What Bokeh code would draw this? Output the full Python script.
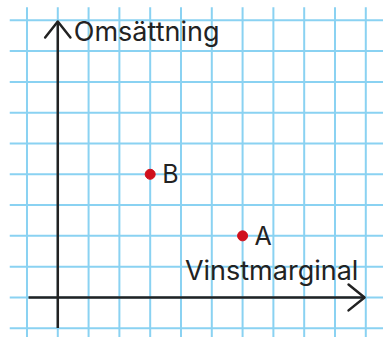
from bokeh.plotting import figure
from bokeh.models import ColumnDataSource
from bokeh.core.properties import value
from bokeh.embed import file_html
from bokeh.resources import INLINE

# Points on the diagram (grid units from the origin)
names = ["A", "B"]
margin = [6, 3]
turnover = [2, 4]

# Axis captions
x_title = "Vinstmarginal"
y_title = "Omsättning"

FONT = value("Inter")
INK = "#222222"
GRID = "#8ad2f2"
RED = "#d0101c"

p = figure(width=383, height=337, output_backend="svg", toolbar_location=None,
           x_range=(-1.86, 10.575), y_range=(-1.30, 9.643),
           min_border=0, outline_line_color=None, background_fill_color="white",
           border_fill_color="white")
p.axis.visible = False
p.grid.visible = False

# Squared-paper background
gx0, gy1 = -1.56, 9.42
gx1, gy0 = 11.0, -2.0
cols = list(range(-1, 11))
rows = list(range(-1, 10))
p.multi_line(xs=[[c, c] for c in cols], ys=[[gy0, gy1] for _ in cols],
             line_color=GRID, line_width=2)
p.multi_line(xs=[[gx0, gx1] for _ in rows], ys=[[r, r] for r in rows],
             line_color=GRID, line_width=2)

# Axes with open arrowheads
p.multi_line(xs=[[0, 0], [-0.95, 9.96]], ys=[[-0.99, 8.96], [0, 0]],
             line_color=INK, line_width=2.5)
p.multi_line(xs=[[-0.41, 0, 0.41], [9.44, 9.96, 9.44]],
             ys=[[8.44, 8.96, 8.44], [0.42, 0, -0.42]],
             line_color=INK, line_width=2.5, line_join="round", line_cap="round")

# Axis captions
p.text(x=[0.52], y=[8.64], text=[y_title], text_font=FONT, text_font_size="27px",
       text_color=INK, text_baseline="alphabetic", text_align="left")
p.text(x=[9.76], y=[0.877], text=[x_title], text_font=FONT, text_font_size="27px",
       text_color=INK, text_baseline="alphabetic", text_align="right")

# Points and their letters
src = ColumnDataSource(dict(x=margin, y=turnover, name=names))
p.scatter("x", "y", source=src, size=10, color=RED)
p.text("x", "y", text="name", source=src, x_offset=12, y_offset=0,
       text_font=FONT, text_font_size="25px", text_color=INK,
       text_baseline="alphabetic", text_align="left")

open("out.html", "w").write(file_html(p, INLINE))
